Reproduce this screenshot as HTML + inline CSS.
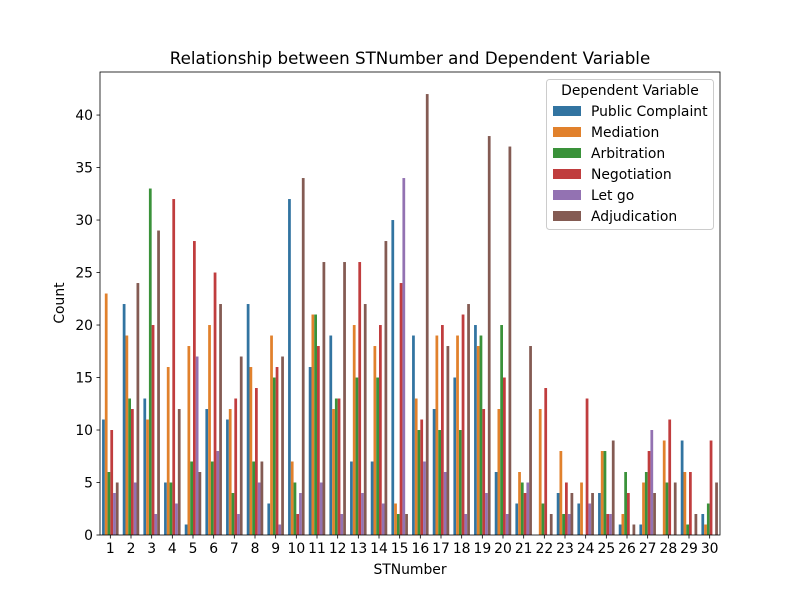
<!DOCTYPE html>
<html><head><meta charset="utf-8"><style>
html,body{margin:0;padding:0;background:#fff;}
svg{display:block;font-family:"DejaVu Sans","Liberation Sans",sans-serif;}
</style></head><body>
<svg id="chart" width="800" height="600" viewBox="0 0 800 600">
<rect width="800" height="600" fill="#fff"/>
<text x="410" y="64" font-size="16.7" text-anchor="middle">Relationship between STNumber and Dependent Variable</text>
<g id="bars"></g>
<g id="axes"></g>
<text x="410" y="574" font-size="13.9" text-anchor="middle">STNumber</text>
<text x="64" y="303" font-size="13.9" text-anchor="middle" transform="rotate(-90 64 303)">Count</text>
<g id="legend"></g>
</svg>
<script>
const categories = ["1","2","3","4","5","6","7","8","9","10","11","12","13","14","15","16","17","18","19","20","21","22","23","24","25","26","27","28","29","30"];
const seriesNames = ["Public Complaint","Mediation","Arbitration","Negotiation","Let go","Adjudication"];
const publicComplaint = [11,22,13,5,1,12,11,22,3,32,16,19,7,7,30,19,12,15,20,6,3,0,4,3,4,1,1,0,9,2];
const mediation =       [23,19,11,16,18,20,12,16,19,7,21,12,20,18,3,13,19,19,18,12,6,12,8,5,8,2,5,9,6,1];
const arbitration =     [6,13,33,5,7,7,4,7,15,5,21,13,15,15,2,10,10,10,19,20,5,3,2,0,8,6,6,5,1,3];
const negotiation =     [10,12,20,32,28,25,13,14,16,2,18,13,26,20,24,11,20,21,12,15,4,14,5,13,2,4,8,11,6,9];
const letGo =           [4,5,2,3,17,8,2,5,1,4,5,2,4,3,34,7,6,2,4,2,5,0,2,3,2,0,10,0,0,0];
const adjudication =    [5,24,29,12,6,22,17,7,17,34,26,26,22,28,2,42,18,22,38,37,18,2,4,4,9,1,4,5,2,5];
const yTicks = [0,5,10,15,20,25,30,35,40];
const colors = ["#3274a1","#e1812c","#3a923a","#c03d3e","#9372b2","#845b53"];
const series = [publicComplaint, mediation, arbitration, negotiation, letGo, adjudication];
const seriesKeys = ["public-complaint","mediation","arbitration","negotiation","let-go","adjudication"];

const NS = "http://www.w3.org/2000/svg";
const L = 100, R = 720, T = 72, B = 535;
const yMax = 44.1;
const xScale = i => L + (i + 0.5) * (R - L) / categories.length;
const yScale = v => B - v * (B - T) / yMax;
const band = (R - L) / categories.length;
const bw = band * 0.8 / series.length;

function mk(tag, attrs, parent) {
  const e = document.createElementNS(NS, tag);
  for (const k in attrs) e.setAttribute(k, attrs[k]);
  parent.appendChild(e);
  return e;
}
const barsG = document.getElementById("bars");
series.forEach((vals, s) => {
  vals.forEach((v, i) => {
    const x = xScale(i) - band * 0.4 + s * bw;
    const r = mk("rect", {x: x, y: yScale(v), width: bw, height: B - yScale(v), fill: colors[s]}, barsG);
    
    
  });
});
const axG = document.getElementById("axes");
yTicks.forEach(t => {
  const y = yScale(t);
  const tk = mk("line", {x1: L - 3.5, x2: L, y1: y, y2: y, stroke: "#000", "stroke-width": 0.8}, axG);
  
  
  const tx = mk("text", {x: L - 7, y: y + 5, "font-size": 13.9, "text-anchor": "end"}, axG);
  tx.textContent = t;
  
  
});
categories.forEach((c, i) => {
  const x = xScale(i);
  const tk = mk("line", {x1: x, x2: x, y1: B, y2: B + 3.5, stroke: "#000", "stroke-width": 0.8}, axG);
  
  
  const tx = mk("text", {x: x, y: B + 18, "font-size": 13.9, "text-anchor": "middle"}, axG);
  tx.textContent = c;
  
  
});
const frame = mk("rect", {x: L, y: T, width: R - L, height: B - T, fill: "none", stroke: "#000", "stroke-width": 0.8}, axG);



const lg = document.getElementById("legend");
const box = mk("rect", {x: 546.5, y: 79.5, width: 167, height: 150, rx: 3, fill: "#fff", "fill-opacity": 0.8, stroke: "#ccc"}, lg);


const lt = mk("text", {x: 630, y: 95, "font-size": 13.9, "text-anchor": "middle"}, lg);
lt.textContent = "Dependent Variable";


seriesNames.forEach((n, s) => {
  const y = 111 + s * 21;
  const p = mk("rect", {x: 553, y: y - 5, width: 28, height: 10, fill: colors[s]}, lg);
  
  
  const t = mk("text", {x: 591, y: y + 5, "font-size": 13.9}, lg);
  t.textContent = n;
  
  
});
</script>
</body></html>
